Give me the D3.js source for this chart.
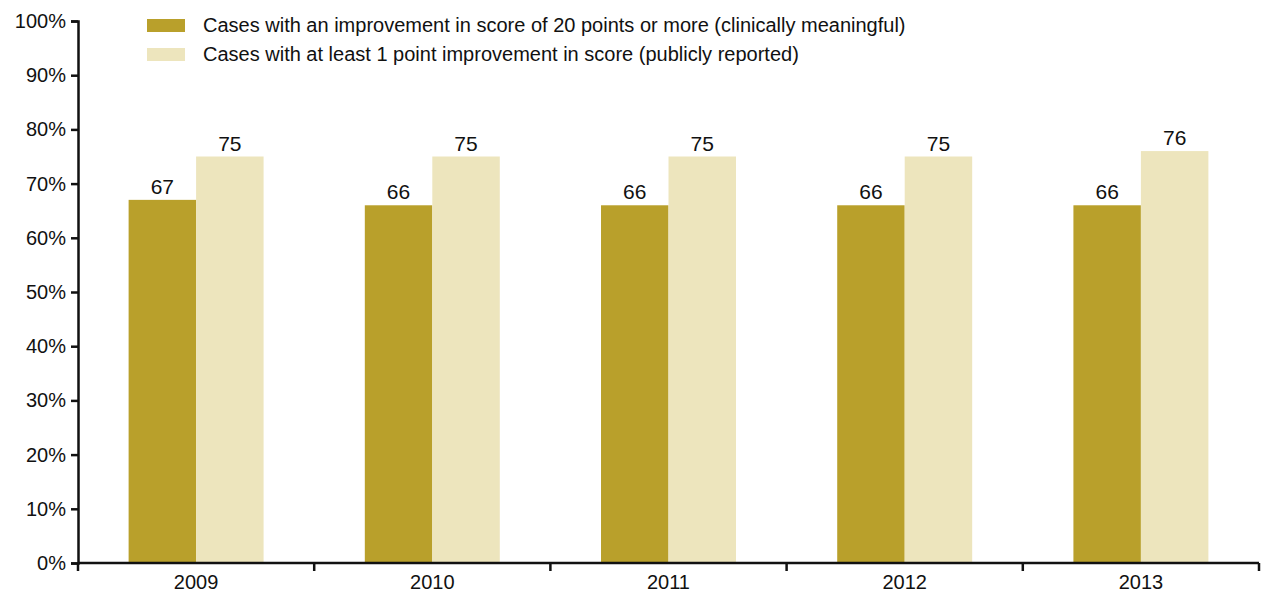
<!DOCTYPE html>
<html>
<head>
<meta charset="utf-8">
<script src="https://cdn.jsdelivr.net/npm/d3@7"></script>
<style>
  html, body { margin: 0; padding: 0; background: #fff; }
  svg { display: block; }
  text { font-family: "Liberation Sans", Arial, sans-serif; fill: #111; }
</style>
</head>
<body>
<svg id="chart" width="1263" height="594"></svg>
<script>
// Share of cases showing improvement, by year
const years = ["2009", "2010", "2011", "2012", "2013"];
const meaningful = [67, 66, 66, 66, 66];   // improvement of 20 points or more
const reported = [75, 75, 75, 75, 76];     // at least 1 point improvement
const seriesNames = [
  "Cases with an improvement in score of 20 points or more (clinically meaningful)",
  "Cases with at least 1 point improvement in score (publicly reported)"
];
const yTicks = [0, 10, 20, 30, 40, 50, 60, 70, 80, 90, 100];

const colors = ["#b9a02b", "#ede5bd"];

const svg = d3.select("#chart");
const margin = { left: 78, right: 4, top: 21, bottom: 31 };
const width = 1263, height = 594;

const x0 = d3.scaleBand().domain(years).range([margin.left, width - margin.right]).padding(0);
const x1 = d3.scaleBand().domain([0, 1]).range([0, x0.bandwidth()]).paddingInner(0).paddingOuter(0.75);
const y = d3.scaleLinear().domain([0, 100]).range([height - margin.bottom, margin.top]);

const data = years.map((yr, i) => ({ year: yr, values: [meaningful[i], reported[i]] }));

// bars
const groups = svg.append("g").selectAll("g").data(data).join("g")
  .attr("transform", d => `translate(${x0(d.year)},0)`);

groups.selectAll("rect").data(d => d.values.map((v, k) => ({ v, k }))).join("rect")
  .attr("x", d => x1(d.k))
  .attr("width", x1.bandwidth())
  .attr("y", d => y(d.v))
  .attr("height", d => y(0) - y(d.v))
  .attr("fill", d => colors[d.k]);

// value labels
groups.selectAll("text.val").data(d => d.values.map((v, k) => ({ v, k }))).join("text")
  .attr("class", "val")
  .attr("x", d => x1(d.k) + x1.bandwidth() / 2)
  .attr("y", d => y(d.v) - 6)
  .attr("text-anchor", "middle")
  .style("font-size", "21px")
  .text(d => d.v);

// y axis
const yAxis = d3.axisLeft(y).tickValues(yTicks).tickFormat(d => d + "%").tickSize(7).tickPadding(5);
const yg = svg.append("g").attr("transform", `translate(${margin.left},0)`).call(yAxis);
yg.select(".domain").attr("stroke", "#111").attr("stroke-width", 2.5);
yg.selectAll(".tick line").attr("stroke", "#111").attr("stroke-width", 2.5).attr("x2", -7);
yg.selectAll(".tick text").style("font-size", "20px").attr("fill", "#111")
  .style("font-family", "'Liberation Sans', Arial, sans-serif");

// x axis with ticks at band boundaries
const xg = svg.append("g").attr("transform", `translate(0,${y(0)})`);
xg.append("line")
  .attr("x1", margin.left).attr("x2", width - margin.right)
  .attr("stroke", "#111").attr("stroke-width", 2.5);
const boundaries = years.map(yr => x0(yr) + x0.bandwidth()).concat([x0(years[0])]);
xg.selectAll("line.tk").data(boundaries).join("line")
  .attr("class", "tk")
  .attr("x1", d => d).attr("x2", d => d)
  .attr("y1", 0).attr("y2", 8)
  .attr("stroke", "#111").attr("stroke-width", 2.5);
xg.selectAll("text").data(years).join("text")
  .attr("x", d => x0(d) + x0.bandwidth() / 2)
  .attr("y", 26)
  .attr("text-anchor", "middle")
  .style("font-size", "20px")
  .text(d => d);

// legend
const legend = svg.append("g");
seriesNames.forEach((name, k) => {
  const ly = 19 + k * 29;
  legend.append("rect").attr("x", 147).attr("y", ly).attr("width", 38).attr("height", 13).attr("fill", colors[k]);
  legend.append("text").attr("x", 203).attr("y", ly + 13).style("font-size", "20px").text(name);
});
</script>
</body>
</html>
